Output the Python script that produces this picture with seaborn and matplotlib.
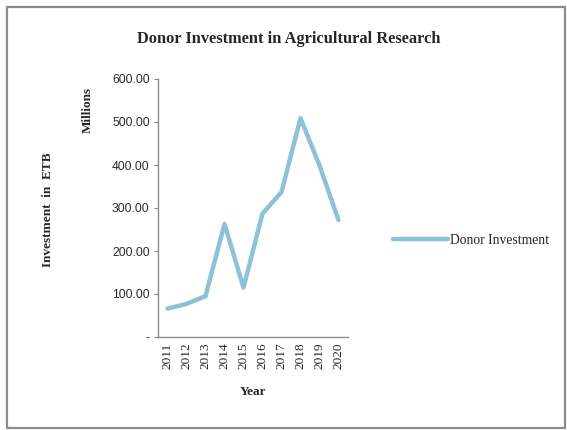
import matplotlib
matplotlib.use('Agg')
import matplotlib.pyplot as plt
import seaborn as sns
import pandas as pd
from matplotlib.patches import Rectangle

sns.set_theme(style="white")

years = [2011, 2012, 2013, 2014, 2015, 2016, 2017, 2018, 2019, 2020]
investment = [66, 77, 95, 263, 115, 287, 337, 509, 399, 272]
y_ticks = [0, 100, 200, 300, 400, 500, 600]
y_tick_labels = ['-', '100.00', '200.00', '300.00', '400.00', '500.00', '600.00']

df = pd.DataFrame({'Year': years, 'Donor Investment': investment})

serif = ['Liberation Serif', 'DejaVu Serif']
sans = ['Liberation Sans', 'DejaVu Sans']
line_color = '#8BC2D5'

fig = plt.figure(figsize=(5.67, 4.30), dpi=100)
ax = fig.add_axes([158 / 567, 1 - 337 / 430, 190 / 567, 258 / 430])

sns.lineplot(data=df, x='Year', y='Donor Investment', ax=ax, color=line_color,
             linewidth=3.2, label='Donor Investment', legend=False)

ax.set_xlim(2010.5, 2020.5)
ax.set_ylim(0, 600)
ax.set_xticks(years)
ax.set_xticklabels([str(y) for y in years], rotation=90, family=serif, fontsize=9.5)
ax.set_yticks(y_ticks)
ax.set_yticklabels(y_tick_labels, family=sans, fontsize=8.7, color='#2b2b2b')
ax.tick_params(axis='y', length=3, width=0.8, color='#888888', left=True, pad=3)
ax.tick_params(axis='x', length=0, pad=4)

for side in ['top', 'right']:
    ax.spines[side].set_visible(False)
for side in ['left', 'bottom']:
    ax.spines[side].set_color('#8c8c8c')
    ax.spines[side].set_linewidth(1.0)

ax.set_xlabel('Year', family=serif, fontsize=9.5, fontweight='bold', labelpad=12)
ax.set_ylabel('')

fig.text(289 / 567, 1 - 39 / 430, 'Donor Investment in Agricultural Research',
         ha='center', va='center', family=serif, fontsize=11.8, fontweight='bold')
fig.text(48 / 567, 1 - 210 / 430, 'Investment  in  ETB', rotation=90,
         ha='center', va='center', family=serif, fontsize=9.5, fontweight='bold')
fig.text(88 / 567, 1 - 110 / 430, 'Millions', rotation=90,
         ha='center', va='center', family=serif, fontsize=9.5, fontweight='bold')

handles, labels = ax.get_legend_handles_labels()
fig.legend(handles, labels, loc='center left', bbox_to_anchor=(381 / 567, 1 - 240 / 430),
           frameon=False, handlelength=4.0, handletextpad=0.2,
           prop={'family': serif, 'size': 9.8})

# grey frame around the chart area
fig.patches.append(Rectangle((7 / 567, 2 / 430), 558 / 567, 421 / 430,
                             transform=fig.transFigure, fill=False,
                             edgecolor='#8c8c8c', linewidth=1.6))

fig.savefig('out.png', dpi=100)
